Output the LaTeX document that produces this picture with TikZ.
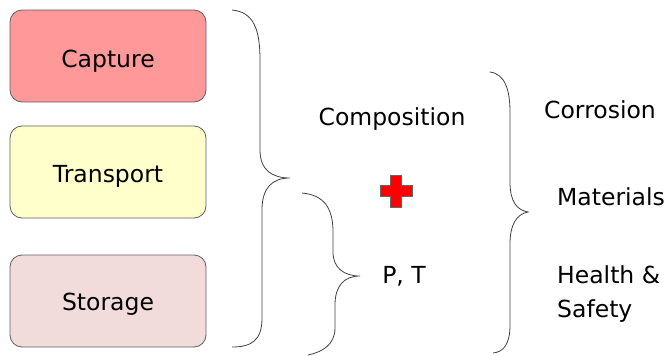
\documentclass[tikz,border=0pt]{standalone}
\usepackage{fontspec}
\setmainfont{DejaVu Sans}
\definecolor{capfill}{HTML}{FF9999}
\definecolor{trafill}{HTML}{FFFFCC}
\definecolor{stofill}{HTML}{F2DCDB}
\definecolor{edge}{HTML}{5F5F5F}
\definecolor{plusred}{HTML}{FF0000}
\begin{document}
\begin{tikzpicture}[x=1pt,y=-1pt,
  stagebox/.style={draw=edge,line width=0.8pt,rounded corners=12pt,minimum width=196pt,minimum height=92pt,inner sep=0pt},
  lbl/.style={font=\fontsize{23.5}{28}\selectfont,inner sep=0pt},
  brace/.style={draw=black!75,line width=0.8pt}]
\useasboundingbox (0,0) rectangle (672,356);
\node[stagebox,fill=capfill] (cap) at (108,56) {};
\node[stagebox,fill=trafill] (tra) at (108,172) {};
\node[stagebox,fill=stofill] (sto) at (108,301) {};
\node[lbl,anchor=base] (capt) at (108,67) {Capture};
\node[lbl,anchor=base] (trat) at (108,182) {Transport};
\node[lbl,anchor=base] (stot) at (108,310) {Storage};
\node[lbl,anchor=base] (comp) at (392,125) {Composition};
\node[lbl,anchor=base] (pt) at (404,283) {P, T};
\node[lbl,anchor=base west] (corr) at (544,118) {Corrosion};
\node[lbl,anchor=base west] (mat) at (557,205) {Materials};
\node[lbl,anchor=base west] (hs1) at (557,283) {Health \&};
\node[lbl,anchor=base west] (hs2) at (557,317) {Safety};
% plus sign
\coordinate (plus) at (396,191);
\draw[fill=plusred,draw=black!60,line width=0.6pt,shift={(plus)}]
  (-5.5,-16) -- (5.5,-16) -- (5.5,-5.5) -- (16,-5.5) -- (16,5.5) -- (5.5,5.5) -- (5.5,16) -- (-5.5,16) -- (-5.5,5.5) -- (-16,5.5) -- (-16,-5.5) -- (-5.5,-5.5) -- cycle;
% brace 1
\draw[brace] (232,10) .. controls (253,12) and (260,28) .. (260,60) -- (260,150)
  .. controls (260,170) and (272,178) .. (290,178)
  .. controls (272,178) and (262,188) .. (262,210) -- (262,318)
  .. controls (262,340) and (252,347) .. (232,347);
% brace 2
\draw[brace] (302,193) .. controls (324,195) and (333,208) .. (333,232) -- (333,252)
  .. controls (333,268) and (344,276) .. (360,276)
  .. controls (344,276) and (335,286) .. (335,305) -- (335,328)
  .. controls (335,345) and (322,352) .. (308,355);
% brace 3
\draw[brace] (490,72) .. controls (505,74) and (510,90) .. (510,112) -- (510,182)
  .. controls (510,202) and (517,210) .. (528,212)
  .. controls (517,214) and (510,224) .. (510,244) -- (510,325)
  .. controls (510,345) and (503,352) .. (493,353);
\end{tikzpicture}
\end{document}
